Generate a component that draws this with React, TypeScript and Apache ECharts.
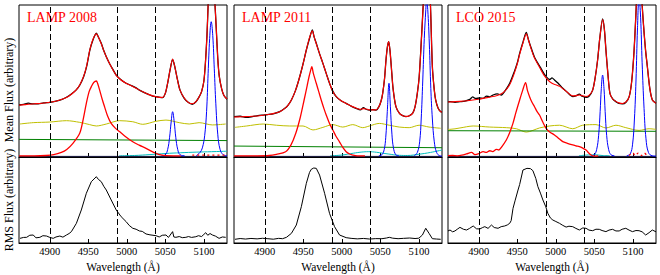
import React, { useEffect, useRef } from 'react';
import * as echarts from 'echarts';

type Pt = [number, number];

const xTicks = [4900, 4950, 5000, 5050, 5100];
const dashedLines = [4900, 4987, 5037];
const panelTitles = ['LAMP 2008', 'LAMP 2011', 'LCO 2015'];
const xLabel = 'Wavelength (Å)';
const yLabelTop = 'Mean Flux (arbitrary)';
const yLabelBottom = 'RMS Flux (arbitrary)';

// ---------- Panel 1: LAMP 2008 ----------
const p1Data: Pt[] = [[4860,34.2],[4866,34.6],[4872,35.4],[4878,34.9],[4885,35.0],[4892,35.6],[4900,36],[4908,36.8],[4915,37.8],[4921.6,39.3],[4928,41.5],[4934,44],[4939,47.4],[4944,53],[4948,60],[4952,70.4],[4956,77],[4960.4,81.4],[4963,79],[4966.8,74.8],[4970,70],[4973.3,66],[4978,61],[4982,57.5],[4986.2,53.9],[4992,51],[4999,48.5],[5006,47],[5012,45.5],[5016.3,44],[5022,42.5],[5028,41.2],[5033.5,40.1],[5040,39.5],[5046.4,39],[5050,42],[5052.9,48.5],[5056,57],[5059.4,64.2],[5062,60],[5065.8,50.7],[5069,44],[5074.5,38.6],[5080,35.8],[5085,34.7],[5090,36.5],[5094,39.7],[5097,43],[5100,50],[5102,62],[5104,80],[5105.5,100],[5107,118],[5109.5,124],[5112,118],[5114,104],[5116,85],[5118,65],[5120,53],[5123,45],[5126,40.5],[5130,38]];
const p1Fit: Pt[] = [[4860,34],[4870,34.6],[4880,35],[4890,35.4],[4900,36],[4910,37],[4921.6,39.2],[4928,41.3],[4934,44],[4939,47.6],[4944,53.2],[4948,60.5],[4952,70.6],[4956,77.5],[4960.4,81],[4963,79],[4966.8,74.5],[4970,70],[4973.3,66],[4978,61],[4982,57.3],[4986.2,53.7],[4992,50.8],[4999,48.5],[5006,46.8],[5012,45.3],[5016.3,44],[5022,42.6],[5028,41.2],[5033.5,40.2],[5040,39.4],[5046.4,39.2],[5050,42],[5052.9,48.5],[5056,57],[5059.4,64.5],[5062,60],[5065.8,50.5],[5069,44],[5074.5,38.8],[5080,35.8],[5085,35],[5090,36.6],[5094,39.8],[5097,43],[5100,50],[5102,62],[5104,80],[5105.5,100],[5107,118],[5109.5,124],[5112,118],[5114,104],[5116,85],[5118,65],[5120,53],[5123,45],[5126,40.5],[5130,38.2]];
const p1Broad: Pt[] = [[4860,0.8],[4880,0.8],[4895,1],[4905,1.5],[4915,3],[4922,5],[4930,9],[4938.8,15.6],[4943,24],[4947.4,35.3],[4951,43],[4953.9,46.3],[4957,49],[4960.4,50],[4962,48.5],[4964.7,44],[4968,38],[4971.1,33],[4975,27],[4979.7,22.1],[4985,19],[4990.5,16.7],[4998,13.5],[5007.7,10],[5016,7.8],[5024.9,5.7],[5031,4],[5037.9,2.4],[5044,1.4],[5050.8,0.9],[5060,0.8],[5070,0.8]];
const p1OiiiA: Pt[] = [[5045,0.8],[5050,1.5],[5053,5],[5055.5,13],[5057.5,23],[5059.4,29.8],[5061.5,23],[5063.5,13],[5066,5],[5069,1.5],[5075,0.8]];
const p1OiiiB: Pt[] = [[5090,0.8],[5095,3],[5098,6],[5101,14],[5103.5,30],[5105.5,55],[5107.5,78],[5109.5,89],[5111.5,80],[5113.5,58],[5115.5,35],[5118,15],[5121,5],[5125,1.5],[5130,0.8]];
const p1FeII: Pt[] = [[4861,21.7],[4878.5,22.6],[4900,23],[4921.6,23.9],[4938.8,22.8],[4951.7,21.3],[4960.4,20.4],[4973.3,21.7],[4990.5,23.9],[5007.7,23.2],[5020.6,21.5],[5037.9,23.5],[5050.8,24.3],[5068,22.6],[5081,21.7],[5093.8,22.6],[5111,21.1],[5128.3,21.7]];
const p1Cont: Pt[] = [[4860,11.6],[5130,10.8]];
const p1Cyan: Pt[] = [[4990,0.8],[5010,1],[5030,1.6],[5050,2.3],[5070,2.8],[5090,3.2],[5110,3.5],[5130,3.8]];
const p1Dotted: Pt[] = [[5085,1.2],[5130,1.2]];
const p1Rms: Pt[] = [[4861.3,5.4],[4866,6.5],[4869.9,6.6],[4874,9],[4878.5,9.3],[4882,6],[4887.1,6.6],[4891,8.5],[4895.8,8.1],[4900,6.5],[4904.4,5.4],[4908,7],[4913,8.1],[4917,6.8],[4921.6,9.3],[4925,11],[4928,13.2],[4934.5,22.9],[4940.9,38.4],[4947.4,57.8],[4953.9,71.3],[4960.4,77.1],[4963,74],[4966.8,71.3],[4970,66],[4973.3,61.6],[4979.7,50],[4986.2,38.4],[4992.6,30.6],[4999.1,24.8],[5003,20.5],[5007.7,17.1],[5012,16],[5016.3,14],[5020,13.5],[5024.9,10.5],[5030,9.5],[5037.9,8.5],[5042,7],[5046,9],[5050.8,9.3],[5054,6.5],[5059.4,13.2],[5061,7],[5063.7,6.6],[5068,7.5],[5072,6.2],[5076.6,6.6],[5080,7.5],[5084,6.5],[5089.5,7.3],[5093,8.5],[5097,7.5],[5100,10],[5102.4,12],[5105,9],[5108,11],[5111.1,9.3],[5115,8],[5119.7,5.4],[5124,7],[5128.3,6.6]];

// ---------- Panel 2: LAMP 2011 ----------
const p2Data: Pt[] = [[4860,26.5],[4868,26.8],[4876,26.1],[4884,26.6],[4891,27.2],[4898,27.6],[4905,28],[4912,28.6],[4919.4,29.8],[4926,32],[4930,34],[4934.5,37.5],[4940,44],[4945.3,52.8],[4950,62],[4953.9,70.4],[4958,78],[4961.7,83.6],[4964,79],[4966.8,74.8],[4971,68],[4975.4,61.6],[4980,54.5],[4984,48.5],[4988,43.5],[4992.7,39.7],[4999,37],[5005.6,35.3],[5012,33.5],[5018.5,32],[5024,31],[5028,32.5],[5031.4,31.4],[5036,30.8],[5040,31.2],[5044.4,30.9],[5048,33],[5051,37],[5053,41.9],[5055.5,52],[5057.3,63.8],[5059,72],[5060.8,75.9],[5062.5,70],[5064.2,59.4],[5066.5,45],[5070.2,33.1],[5075,28.5],[5079,27.2],[5083.2,26.5],[5087,27],[5091.8,28.7],[5095,33],[5098,42],[5100.4,52.8],[5103,75],[5105.6,100],[5108,125],[5110,130],[5112.5,125],[5115,100],[5117.5,59.4],[5120,44],[5121.8,37.5],[5125,32],[5128.3,29.8],[5130,29.5]];
const p2Fit: Pt[] = [[4860,26.3],[4870,26.5],[4880,26.6],[4890,27],[4898,27.5],[4905,28],[4912,28.7],[4919.4,29.8],[4926,32],[4930,34],[4934.5,37.5],[4940,44],[4945.3,52.8],[4950,62],[4953.9,70.4],[4958,78.5],[4961.7,83],[4964,79],[4966.8,74.5],[4971,68],[4975.4,61.6],[4980,54.5],[4984,48.5],[4988,43.5],[4992.7,39.8],[4999,37],[5005.6,35.2],[5012,33.5],[5018.5,32.2],[5024,31.3],[5028,31.8],[5031.4,31.6],[5036,31],[5040,31],[5044.4,31],[5048,33],[5051,37],[5053,41.9],[5055.5,52],[5057.3,63.8],[5059,72],[5060.8,75.9],[5062.5,70],[5064.2,59.4],[5066.5,45],[5070.2,33.1],[5075,28.5],[5079,27.2],[5083.2,26.7],[5087,27],[5091.8,28.7],[5095,33],[5098,42],[5100.4,52.8],[5103,75],[5105.6,100],[5108,125],[5110,130],[5112.5,125],[5115,100],[5117.5,59.4],[5120,44],[5121.8,37.5],[5125,32],[5128.3,29.8],[5130,29.5]];
const p2Broad: Pt[] = [[4860,0.8],[4890,0.8],[4905.6,1],[4915,1.8],[4927,3.5],[4934,8],[4940.2,15.6],[4946,26],[4951,37.5],[4955,47],[4957.4,52.8],[4959.5,57],[4961,59.4],[4963,55],[4966.8,48.5],[4970,43],[4973.2,37.5],[4977,31.5],[4979.7,27.6],[4984,22],[4988.3,17.8],[4992,14],[4996.9,10],[5001,6.5],[5005.6,3.5],[5010,2],[5014.2,1.3],[5020,0.8],[5030,0.8]];
const p2OiiiA: Pt[] = [[5048,0.8],[5052,1.5],[5055,5],[5057,13],[5059,30],[5061.2,48.5],[5063,33],[5065,15],[5067,6],[5070,1.5],[5074,0.8]];
const p2OiiiB: Pt[] = [[5094,0.8],[5098,3],[5101,10],[5103,25],[5105,50],[5107,78],[5109,97],[5110,104],[5111.5,97],[5113.5,75],[5115.5,45],[5117.5,25],[5120,10],[5123,3],[5127,0.8],[5130,0.6]];
const p2FeII: Pt[] = [[4861.3,19.5],[4876.4,20.4],[4897.9,21.7],[4915.1,20.9],[4932.4,20.4],[4949.6,20.4],[4962.5,17.8],[4975.4,19.5],[4988.3,21.3],[5001.2,19.7],[5014.2,21.3],[5027.1,19.3],[5035.7,20.4],[5048.6,22.1],[5061.6,20.9],[5074.5,19.7],[5087.4,19.3],[5100.3,20.9],[5113.2,19.7],[5128.3,18.9]];
const p2Cont: Pt[] = [[4860,7.2],[5130,6.1]];
const p2Cyan: Pt[] = [[4985,0.8],[5000,1.3],[5015,2.5],[5025,3.2],[5035,3.5],[5045,3.1],[5060,2],[5075,1.1],[5085,1],[5100,1.8],[5115,3],[5130,4.6]];
const p2Rms: Pt[] = [[4861.3,4.3],[4868,5.2],[4875,4.6],[4882,5.3],[4890,4.8],[4897,5.5],[4904,5],[4911,4.4],[4918,5.4],[4923,5],[4928.1,6.6],[4934.5,11.2],[4940.9,20.9],[4947.4,42.2],[4953.9,69.4],[4958,82],[4960.3,85.7],[4963.5,87.2],[4966.8,86.8],[4971.1,79],[4977.6,57.8],[4984,34.5],[4990.5,19],[4997,9.3],[5005.6,6.2],[5012,5.4],[5020,4.8],[5028,5.3],[5036,4.6],[5044,5.1],[5052,5],[5058,5.8],[5061.6,6.6],[5066,5.6],[5073,5],[5080,5.4],[5088,5.8],[5095,5.2],[5100,5.6],[5104.6,9.3],[5108.9,17.1],[5113.2,11.2],[5117.5,5],[5123,4.6],[5128.3,4.3]];

// ---------- Panel 3: LCO 2015 ----------
const p3Data: Pt[] = [[4860,36.2],[4862.6,36.4],[4869,36],[4875.5,36.4],[4882,36.8],[4888.4,37.9],[4892,39.5],[4896,38.5],[4901,38.8],[4905.6,38.6],[4910,40],[4914,39.6],[4918.5,40.8],[4924,41.5],[4929.3,40.8],[4934,43.5],[4940.1,48.5],[4946,56],[4950,62],[4953,68.2],[4957,75],[4961.6,82],[4964.5,77],[4968.1,71.5],[4972,66],[4976.7,61.6],[4981,58],[4985,54.5],[4987.5,52.8],[4992,51],[4995,52],[4998.2,50.7],[5003,48.5],[5009,45.2],[5014,43],[5018,41],[5021.9,39.7],[5026,40.2],[5030.5,41.4],[5034,40],[5039.2,39.3],[5043,40],[5047.8,44],[5051,52],[5054.2,63.8],[5057,78],[5060.7,90.8],[5063,84],[5065,70.4],[5067.5,55],[5070.2,41.9],[5074,38],[5078,36.4],[5082,35.2],[5086.5,34.9],[5091,36],[5095.2,39.7],[5098.5,50],[5101.6,70.4],[5104,95],[5106,118],[5108,128],[5110,120],[5112,100],[5114.5,82],[5116.5,70],[5118.8,59.4],[5122,45],[5125.3,37.5],[5130,35.3]];
const p3Fit: Pt[] = [[4860,36.2],[4875,36.6],[4888,37.2],[4900,38],[4912,39.2],[4924,40.5],[4932,42.5],[4940,47.5],[4946,55],[4950,61.5],[4953,67.5],[4957,74.5],[4961.6,81],[4964.5,77],[4968,71],[4972,65.5],[4976.7,61],[4981,57],[4985,53.5],[4990,50.5],[4995,48.5],[5000,47.5],[5005,46.5],[5009,45],[5014,43],[5018,41.2],[5022,40.2],[5026,40.4],[5030.5,40.8],[5035,40.2],[5039,39.8],[5043,40.5],[5047.8,44],[5051,52],[5054.2,63.8],[5057,78],[5060.7,90.5],[5063,84],[5065,70.4],[5067.5,55],[5070.2,41.9],[5074,38],[5078,36.6],[5082,35.6],[5086.5,35.2],[5091,36.2],[5095.2,39.7],[5098.5,50],[5101.6,70.4],[5104,95],[5106,118],[5108,128],[5110,120],[5112,100],[5114.5,82],[5116.5,70],[5118.8,59.4],[5122,45],[5125.3,37.5],[5130,35.3]];
const p3Broad: Pt[] = [[4860,0.9],[4866,1],[4872,0.8],[4878,1.2],[4884,2],[4890.6,3],[4895,1.6],[4900,2.2],[4905.6,3.5],[4910,3],[4914.2,4.1],[4918,3.6],[4922.8,5],[4926,4.6],[4929.3,6.4],[4935.7,11.2],[4940,16],[4944.3,22.1],[4948,29],[4953,37.5],[4957,44],[4960.7,48.9],[4963,44],[4965.9,39.7],[4969,36],[4972.3,33.1],[4975.5,30],[4978.8,27.6],[4983,23],[4987.4,18.9],[4992,16.5],[4998.2,14.5],[5003,12.5],[5009,10.1],[5015,9],[5021.9,7.9],[5026,7.3],[5030.5,6.8],[5035,5.8],[5039.2,4.6],[5042,3],[5045.6,1.3],[5050,0.6],[5055,0.8]];
const p3OiiiA: Pt[] = [[5046,0.8],[5050,1.5],[5053,5],[5055.5,14],[5057.5,30],[5059,45],[5060.7,53.9],[5062.5,45],[5064,30],[5066,14],[5068.5,5],[5071.5,1.5],[5076,0.8]];
const p3OiiiB: Pt[] = [[5092,0.8],[5096.5,2],[5099.5,8],[5102,25],[5104,50],[5106,85],[5108,105],[5110,92],[5112,62],[5114.5,32],[5117,12],[5120.2,3],[5125,0.8],[5130,0.6]];
const p3FeII: Pt[] = [[4860,18.2],[4862.6,18.2],[4875.5,19.1],[4892.7,20.4],[4914.2,19.7],[4935.7,19.3],[4948.7,18.6],[4961.6,16.4],[4978.8,19.1],[4991.7,20.4],[5004.7,20.9],[5021.9,18.6],[5034.8,20.9],[5052.1,21.3],[5065,19.1],[5078,20.9],[5090.8,19.3],[5108,17.5],[5120.9,18.6],[5129.6,18.2]];
const p3Cont: Pt[] = [[4860,17.3],[5130,16.9]];
const p3Cyan: Pt[] = [[5030,0.8],[5040,1.3],[5050,1.5],[5060,1],[5070,0.8]];
const p3Dotted: Pt[] = [[5095,1],[5100,2.6],[5103,1],[5107,2.6],[5111,1],[5115,2.6],[5118,1]];
const p3Rms: Pt[] = [[4860,14],[4862.6,15.1],[4866,13],[4869,14],[4872,16],[4875.5,18.2],[4880,16],[4884.1,15.1],[4888,17],[4892.7,19.8],[4897,16.5],[4901.3,16.3],[4905,18],[4907.8,19],[4912,17],[4916.4,20.9],[4920,18],[4925,17.1],[4929,19],[4933.6,19.8],[4937,21],[4940.1,22.9],[4942,26],[4944.4,40.3],[4947,49],[4950.9,61.6],[4953,68],[4957.3,84.9],[4962.5,86.8],[4967,86.5],[4970.2,84.1],[4974,75],[4976.7,65.5],[4980,58],[4983.2,50],[4987,42],[4989.6,34.5],[4993,29],[4996.1,26.7],[5000,25],[5004.7,22.9],[5009,20.5],[5013.3,18.5],[5017,19.5],[5021.9,19],[5026,17],[5030.5,15.1],[5035,17.5],[5039.2,17.1],[5043,15],[5047.8,14.3],[5052,16],[5056.4,15.9],[5060,14.5],[5065,13.2],[5069,15],[5073.6,15.9],[5078,14],[5082.2,14],[5086,16],[5090.8,17.1],[5095,15],[5099.4,13.2],[5104,14.5],[5108,14.3],[5112,13],[5116.6,9.3],[5121,12],[5125.2,15.1],[5130,13]];

const panels = [
  { data: p1Data, fit: p1Fit, broad: p1Broad, oA: p1OiiiA, oB: p1OiiiB, fe: p1FeII, cont: p1Cont, cyan: p1Cyan, dotted: p1Dotted, rms: p1Rms },
  { data: p2Data, fit: p2Fit, broad: p2Broad, oA: p2OiiiA, oB: p2OiiiB, fe: p2FeII, cont: p2Cont, cyan: p2Cyan, dotted: null as Pt[] | null, rms: p2Rms },
  { data: p3Data, fit: p3Fit, broad: p3Broad, oA: p3OiiiA, oB: p3OiiiB, fe: p3FeII, cont: p3Cont, cyan: p3Cyan, dotted: p3Dotted, rms: p3Rms },
];

const FONT = 'Liberation Serif';
const PANEL_LEFT = [19, 234, 448];
const PANEL_W = 208;
const TOP_Y = 5;
const TOP_H = 152;
const BOT_Y = 157;
const BOT_H = 86;

function mkLine(data: Pt[], color: string, width: number, idx: number, smooth: number | boolean, extra: any = {}) {
  return {
    type: 'line',
    data,
    xAxisIndex: idx,
    yAxisIndex: idx,
    symbol: 'none',
    showSymbol: false,
    smooth,
    silent: true,
    clip: true,
    lineStyle: { color, width, ...(extra.lineStyle || {}) },
    ...(extra.markLine ? { markLine: extra.markLine } : {}),
  };
}

function dashMark() {
  return {
    symbol: ['none', 'none'],
    silent: true,
    label: { show: false },
    lineStyle: { color: '#000', width: 1, type: [6, 3] },
    data: dashedLines.map((v) => ({ xAxis: v })),
  };
}

export default function App() {
  const ref = useRef<HTMLDivElement>(null);

  useEffect(() => {
    if (!ref.current) return;
    const chart = echarts.init(ref.current, undefined, { renderer: 'svg' });

    const grids: any[] = [];
    const xAxes: any[] = [];
    const yAxes: any[] = [];
    const series: any[] = [];
    const graphics: any[] = [];

    for (let row = 0; row < 2; row++) {
      for (let p = 0; p < 3; p++) {
        const idx = row * 3 + p;
        const isBottom = row === 1;
        grids.push({
          left: PANEL_LEFT[p],
          top: isBottom ? BOT_Y : TOP_Y,
          width: PANEL_W,
          height: isBottom ? BOT_H : TOP_H,
          show: true,
          borderColor: '#000',
          borderWidth: 1,
          backgroundColor: 'transparent',
          containLabel: false,
        });
        xAxes.push({
          type: 'value',
          gridIndex: idx,
          min: 4860,
          max: 5130,
          axisLine: { show: true, onZero: false, lineStyle: { color: '#000', width: 1 } },
          axisTick: { show: true, inside: true, length: 4, lineStyle: { color: '#000', width: 1 }, customValues: xTicks },
          axisLabel: {
            show: isBottom,
            customValues: xTicks,
            formatter: (v: number) => String(v),
            fontFamily: FONT,
            fontSize: 10.5,
            color: '#000',
            margin: 3,
          },
          splitLine: { show: false },
          name: isBottom ? xLabel : '',
          nameLocation: 'middle',
          nameGap: 18,
          nameTextStyle: { fontFamily: FONT, fontSize: 11.5, color: '#000' },
        });
        yAxes.push({
          type: 'value',
          gridIndex: idx,
          min: 0,
          max: 100,
          show: false,
          splitLine: { show: false },
        });
      }
    }

    panels.forEach((pn, p) => {
      const ti = p;
      series.push(mkLine(pn.fe, '#bfbf00', 1, ti, 0.3));
      series.push(mkLine(pn.cont, '#008000', 1, ti, false));
      series.push(mkLine(pn.cyan, '#00bfbf', 1, ti, 0.4));
      series.push(mkLine([[4860, 0.4], [5130, 0.4]], '#1a1a40', 1, ti, false));
      series.push(mkLine(pn.oA, '#0000ff', 1, ti, 0.4));
      series.push(mkLine(pn.oB, '#0000ff', 1, ti, 0.4));
      series.push(mkLine(pn.broad, '#ff0000', 1.3, ti, 0.3));
      if (pn.dotted) series.push(mkLine(pn.dotted, '#ff0000', 1.3, ti, 0.3, { lineStyle: { type: [2, 3] } }));
      series.push(mkLine(pn.data, '#000000', 1.3, ti, 0.25, { markLine: dashMark() }));
      series.push(mkLine(pn.fit, '#ff0000', 1.1, ti, 0.25));
      series.push(mkLine(pn.rms, '#000000', 1, 3 + p, false, { markLine: dashMark() }));

      graphics.push({
        type: 'text',
        x: PANEL_LEFT[p] + 8,
        y: 17,
        silent: true,
        style: {
          text: panelTitles[p],
          fill: '#ff0000',
          fontFamily: FONT,
          fontSize: 14,
          textAlign: 'left',
          align: 'left',
          textVerticalAlign: 'middle',
          verticalAlign: 'middle',
        },
      });
    });

    const yLab = (text: string, y: number) => ({
      type: 'text',
      x: 8.5,
      y,
      rotation: Math.PI / 2,
      silent: true,
      style: {
        text,
        fill: '#000',
        fontFamily: FONT,
        fontSize: 12,
        textAlign: 'center',
        align: 'center',
        textVerticalAlign: 'middle',
        verticalAlign: 'middle',
      },
    });
    graphics.push(yLab(yLabelTop, 90));
    graphics.push(yLab(yLabelBottom, 200));

    chart.setOption({
      animation: false,
      backgroundColor: '#ffffff',
      textStyle: { fontFamily: FONT },
      grid: grids,
      xAxis: xAxes,
      yAxis: yAxes,
      series,
      graphic: graphics,
    });

    return () => {
      chart.dispose();
    };
  }, []);

  return (
    <div
      ref={ref}
      style={{ position: 'fixed', left: 0, top: 0, width: 660, height: 275, background: '#fff' }}
    />
  );
}
